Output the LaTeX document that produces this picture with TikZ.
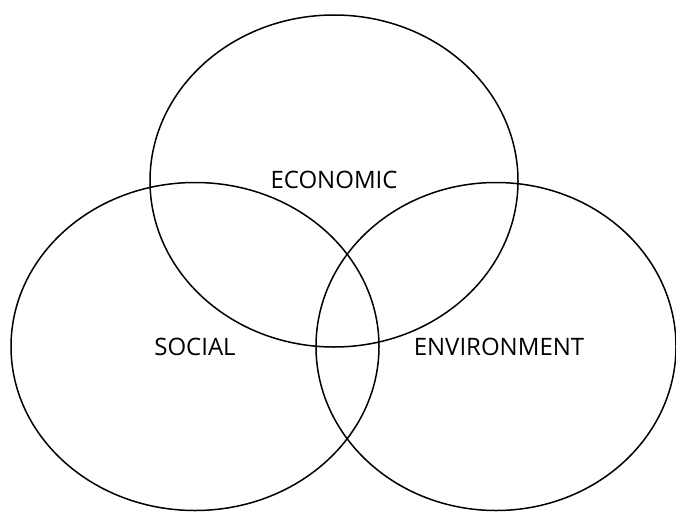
\documentclass[tikz,border=0pt]{standalone}
\usepackage{fontspec}
\setmainfont{Open Sans}
\usetikzlibrary{positioning}

\begin{document}
\begin{tikzpicture}[line cap=round,line join=round,x=1pt,y=-1pt]

\def\rx{184} %ellipse half width
\def\ry{164} %ellipse half height
\def\lw{1.5pt} %outline width

\tikzset{venn/.style={draw=black,line width=\lw},
  vlabel/.style={font=\fontsize{24}{27}\selectfont,text=black,inner sep=0pt}}

\useasboundingbox (0,0) rectangle (676,511);

%circles
\draw[venn] (334,181) ellipse ({\rx} and 166);
\draw[venn] (195,346.5) ellipse ({\rx} and \ry);
\draw[venn] (496,346.5) ellipse (180 and \ry);

%labels
\node[vlabel] (economic) at (334,180) {ECONOMIC};
\node[vlabel] (social) at (195,347) {SOCIAL};
\node[vlabel] (environment) at (499,347) {ENVIRONMENT};

\end{tikzpicture}
\end{document}
